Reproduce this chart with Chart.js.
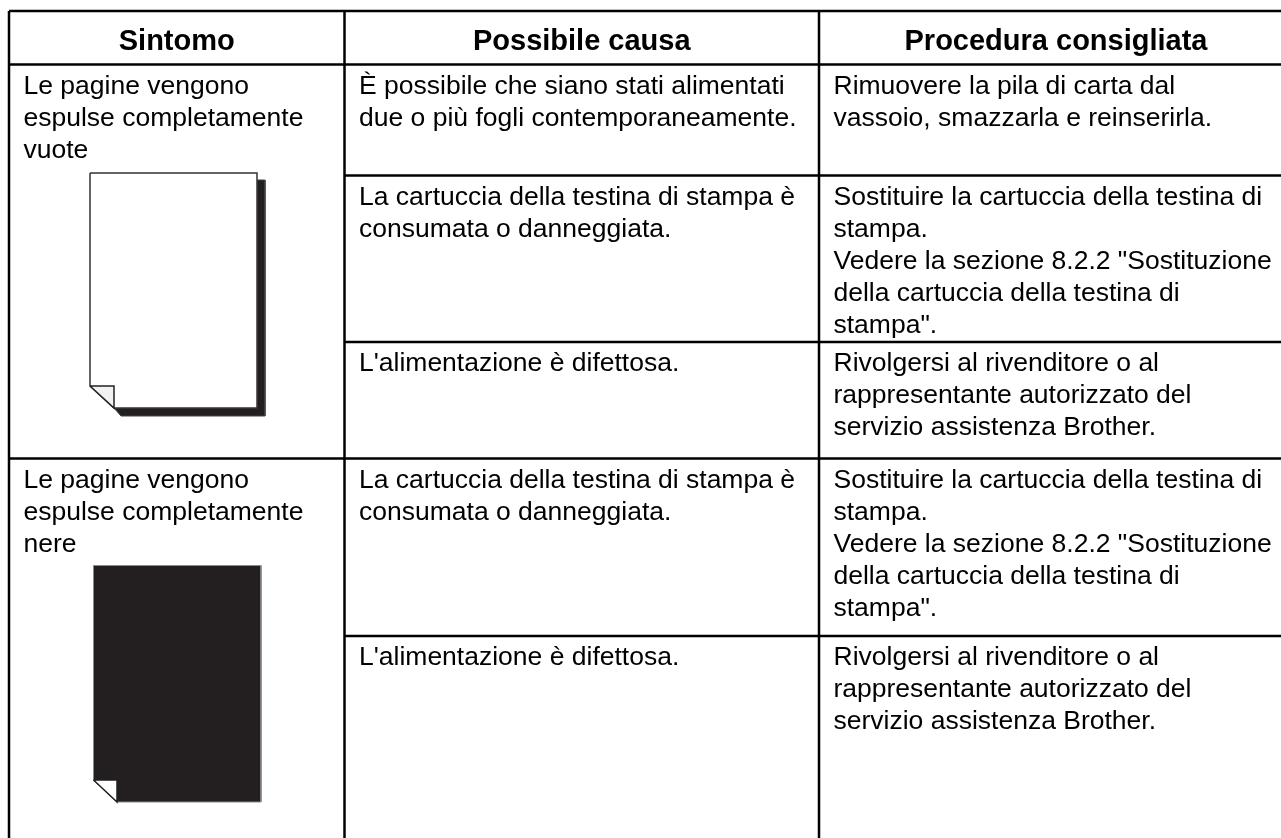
<!DOCTYPE html>
<html>
<head>
<meta charset="utf-8">
<title>Sintomo</title>
<script src="https://cdn.jsdelivr.net/npm/chart.js@4"></script>
<style>
html,body{margin:0;padding:0;background:#fff;}
canvas{display:block;}
</style>
</head>
<body>
<canvas id="tableChart" width="1281" height="838"></canvas>
<script>

// table grid, in axis units
const columnEdges=[9,344.5,819,1281];
const rowEdges=[11,64.5,175.5,342,458.5,636,838];
const ruleRows=[0,1,2,3,4,5];
const ruleFirstColumn=[0,0,1,1,0,1];
// the last column runs off the page, so its header sits right of the visible middle
const headerCenters=[176.75,581.75,1056];

// page drawings
const blankShadowX=[257,265,265,121,114,257,257];
const blankShadowY=[180,180,416,416,408,408,180];
const blankPageX=[90,257,257,114,90,90];
const blankPageY=[173,173,408,408,386,173];
const blankFoldX=[90,114,114,90];
const blankFoldY=[386,386,408,386];
const blackPageX=[93.5,261,261,117,93.5,93.5];
const blackPageY=[565.5,565.5,802,802,780,565.5];
const blackFoldX=[93.5,117,117,93.5];
const blackFoldY=[780,780,802,780];

// texts
const headers=["Sintomo","Possibile causa","Procedura consigliata"];
const symptoms=[
[1,["Le pagine vengono","espulse completamente","vuote"]],
[4,["Le pagine vengono","espulse completamente","nere"]]
];
const causes=[
[1,["È possibile che siano stati alimentati","due o più fogli contemporaneamente."]],
[2,["La cartuccia della testina di stampa è","consumata o danneggiata."]],
[3,["L'alimentazione è difettosa."]],
[4,["La cartuccia della testina di stampa è","consumata o danneggiata."]],
[5,["L'alimentazione è difettosa."]]
];
const actions=[
[1,["Rimuovere la pila di carta dal","vassoio, smazzarla e reinserirla."]],
[2,["Sostituire la cartuccia della testina di","stampa.","Vedere la sezione 8.2.2 \"Sostituzione","della cartuccia della testina di","stampa\"."]],
[3,["Rivolgersi al rivenditore o al","rappresentante autorizzato del","servizio assistenza Brother."]],
[4,["Sostituire la cartuccia della testina di","stampa.","Vedere la sezione 8.2.2 \"Sostituzione","della cartuccia della testina di","stampa\"."]],
[5,["Rivolgersi al rivenditore o al","rappresentante autorizzato del","servizio assistenza Brother."]]
];

const inkColor="#231f20";
const bodyFont="26.5px 'Liberation Sans'";
const headFont="bold 29px 'Liberation Sans'";

function points(xs,ys){
return xs.map((x,i)=>({x:x,y:ys[i]}));
}

function shape(xs,ys,fillColor,lineColor,lineWidth,order){
return {
data:points(xs,ys),
showLine:true,
fill:fillColor?"shape":false,
backgroundColor:fillColor||"transparent",
borderColor:lineColor,
borderWidth:lineWidth,
pointRadius:0,
tension:0,
clip:false,
order:order
};
}

const datasets=[];

// shapes first, rules above them
datasets.push(shape(blankShadowX,blankShadowY,inkColor,"#444",1,9));
datasets.push(shape(blankPageX,blankPageY,"#ffffff","#333",1.5,8));
datasets.push(shape(blankFoldX,blankFoldY,"#f2f2f2","#222",1.5,7));
datasets.push(shape(blackPageX,blackPageY,inkColor,"#8a8a8a",1,6));
datasets.push(shape(blackFoldX,blackFoldY,"#ffffff",inkColor,1.5,5));

ruleRows.forEach((r,i)=>{
datasets.push(shape(
[columnEdges[ruleFirstColumn[i]],columnEdges[3]],
[rowEdges[r],rowEdges[r]],
null,"#000",2.5,1
));
});

[0,1,2].forEach(c=>{
datasets.push(shape(
[columnEdges[c],columnEdges[c]],
[rowEdges[0],rowEdges[6]],
null,"#000",2.5,1
));
});

const tableText={
id:"tableText",
afterDatasetsDraw(chart){
const c=chart.ctx;
const sx=chart.scales.x;
const sy=chart.scales.y;
c.save();
c.fillStyle="#000";
c.textBaseline="alphabetic";

c.font=headFont;
c.textAlign="center";
headers.forEach((h,i)=>{
c.fillText(h,sx.getPixelForValue(headerCenters[i]),sy.getPixelForValue(50));
});

c.font=bodyFont;
c.textAlign="left";
[symptoms,causes,actions].forEach((col,i)=>{
col.forEach(cell=>{
cell[1].forEach((line,n)=>{
c.fillText(
line,
sx.getPixelForValue(columnEdges[i]+14.5),
sy.getPixelForValue(rowEdges[cell[0]]+29+n*32)
);
});
});
});
c.restore();
}
};

new Chart(document.getElementById("tableChart"),{
type:"scatter",
data:{datasets:datasets},
plugins:[tableText],
options:{
responsive:false,
animation:false,
events:[],
layout:{padding:0},
plugins:{
legend:{display:false},
tooltip:{enabled:false},
title:{display:false}
},
scales:{
x:{type:"linear",min:0,max:1281,display:false},
y:{type:"linear",min:0,max:838,reverse:true,display:false}
}
}
});

</script>
</body>
</html>
